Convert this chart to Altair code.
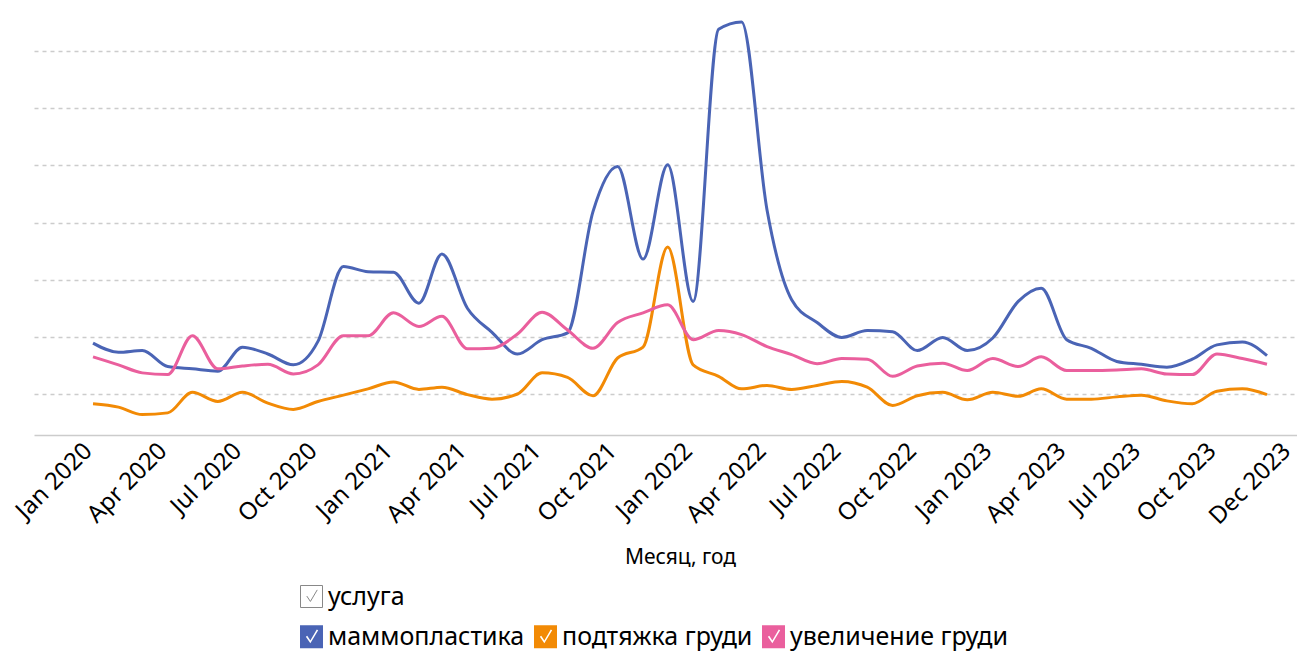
import altair as alt
import pandas as pd

series_names = ["маммопластика", "подтяжка груди", "увеличение груди"]
series_colors = ["#4A64B5", "#F28A05", "#EA5F9D"]
tick_labels_fmt = "%b %Y"

months = [d.strftime("%Y-%m-%d") for d in pd.date_range("2020-01-01", periods=48, freq="MS")]

mammoplasty = [18.9, 17.3, 17.6, 14.8, 14.4, 14.0, 18.2, 17.0, 15.1, 19.2, 32.3, 31.4,
               31.3, 25.9, 34.5, 25.0, 20.8, 17.0, 19.5, 20.7, 41.9, 49.8, 33.6, 50.1,
               26.2, 73.8, 75.1, 42.2, 26.5, 22.5, 19.9, 21.1, 20.9, 17.6, 19.9, 17.6,
               19.8, 26.2, 28.5, 19.5, 18.0, 15.7, 15.2, 14.7, 16.1, 18.6, 19.1, 16.7]
lift = [8.3, 7.7, 6.4, 6.7, 10.3, 8.7, 10.3, 8.4, 7.3, 8.7, 9.8, 10.9,
        12.1, 10.8, 11.2, 9.9, 9.1, 10.0, 13.7, 12.9, 9.7, 16.3, 18.2, 35.7,
        15.1, 13.1, 10.9, 11.5, 10.8, 11.5, 12.2, 11.2, 8.0, 9.7, 10.3, 9.0,
        10.3, 9.6, 10.9, 9.1, 9.1, 9.5, 9.8, 8.8, 8.3, 10.5, 10.9, 9.9]
augmentation = [16.5, 15.1, 13.7, 13.4, 20.2, 14.4, 14.9, 15.2, 13.5, 15.1, 20.2, 20.2,
                24.2, 21.8, 23.6, 17.9, 18.0, 20.5, 24.3, 21.2, 18.0, 22.5, 24.2, 25.6,
                19.5, 21.1, 20.4, 18.3, 16.9, 15.3, 16.2, 16.1, 13.1, 14.9, 15.4, 14.1,
                16.2, 14.8, 16.5, 14.1, 14.1, 14.2, 14.4, 13.5, 13.4, 17.0, 16.2, 15.2]

grid_values = [10, 20, 30, 40, 50, 60, 70]

rows = []
for name, vals in zip(series_names, [mammoplasty, lift, augmentation]):
    for m, v in zip(months, vals):
        rows.append({"Месяц": m, "услуга": name, "value": v})
df = pd.DataFrame(rows)

legend_df = pd.DataFrame({"Месяц": [months[0]] * 3, "услуга": series_names, "value": [-50] * 3})
title_df = pd.DataFrame({"Месяц": [months[0]], "t": ["услуга"], "value": [-50]})

FONT = "Noto Sans"
CHECK_PATH = ("M-1,-1L1,-1L1,1L-1,1Z "
              "M-0.49,0L-0.1,0.56L0.58,-0.56L0.46,-0.64L-0.1,0.33L-0.37,-0.08Z")
BOX_PATH = "M-1,-1L1,-1L1,1L-1,1Z M-0.43,-0.04L-0.1,0.45L0.52,-0.6"

tick_dates = [alt.DateTime(year=y, month=m, date=1, utc=True)
              for y in [2020, 2021, 2022, 2023] for m in [1, 4, 7, 10]]
tick_dates.append(alt.DateTime(year=2023, month=12, date=31, utc=True))

x_scale = alt.Scale(type="utc", domain=[
    alt.DateTime(year=2019, month=10, date=21, hours=3, utc=True),
    alt.DateTime(year=2024, month=1, date=6, hours=13, utc=True)])
y_scale = alt.Scale(domain=[2.83, 77.53], nice=False, zero=False)

x_enc = alt.X("Месяц:T", scale=x_scale, axis=alt.Axis(
    values=tick_dates, format=tick_labels_fmt, labelAngle=-45, labelAlign="right",
    labelBaseline="middle", labelOverlap=False, labelFont=FONT,
    labelFontSize=24, labelColor="#000", labelPadding=12, labelOffset=-5,
    ticks=False, grid=False,
    domainColor="#cccccc", domainWidth=1.5, title="Месяц, год", titleFont=FONT,
    titleFontSize=21, titleFontWeight="normal", titleColor="#000", titlePadding=18,
    titleX=646))
y_enc = alt.Y("value:Q", scale=y_scale, axis=alt.Axis(
    values=grid_values, labels=False, ticks=False, domain=False, title=None,
    grid=True, gridDash=[4, 4], gridColor="#cccccc", gridWidth=1.5))

lines = alt.Chart(df).mark_line(interpolate="monotone", strokeWidth=3).encode(
    x=x_enc, y=y_enc,
    color=alt.Color("услуга:N", scale=alt.Scale(domain=series_names, range=series_colors), legend=None),
)

legend_pts = alt.Chart(legend_df).mark_point(filled=True, clip=True, shape=CHECK_PATH).encode(
    x="Месяц:T", y="value:Q",
    fill=alt.Fill("услуга:N", scale=alt.Scale(domain=series_names, range=series_colors),
                  legend=alt.Legend(title=None, orient="none", legendX=265, legendY=616,
                                    direction="horizontal", symbolType=CHECK_PATH,
                                    symbolSize=529, symbolStrokeWidth=0, symbolOpacity=1,
                                    labelFont=FONT, labelFontSize=25, labelColor="#000",
                                    labelOffset=4, columnPadding=8, labelLimit=600)),
)

title_pt = alt.Chart(title_df).mark_point(filled=False, clip=True).encode(
    x="Месяц:T", y="value:Q",
    shape=alt.Shape("t:N", scale=alt.Scale(range=[BOX_PATH]),
                    legend=alt.Legend(title=None, orient="none", legendX=265, legendY=576,
                                      symbolSize=484, symbolStrokeColor="#888888",
                                      symbolFillColor="transparent", symbolStrokeWidth=1,
                                      symbolOpacity=1, labelFont=FONT, labelFontSize=25,
                                      labelColor="#000", labelOffset=4, labelLimit=600)),
)

chart = alt.layer(lines, legend_pts, title_pt).resolve_scale(
    fill="independent", shape="independent"
).properties(
    width=1263, height=427,
    autosize=alt.AutoSizeParams(type="none"),
    padding={"left": 26, "top": 0, "right": 0, "bottom": 217},
).configure_view(stroke=None)

chart.save("out.html", embed_options={"renderer": "svg", "actions": False})
